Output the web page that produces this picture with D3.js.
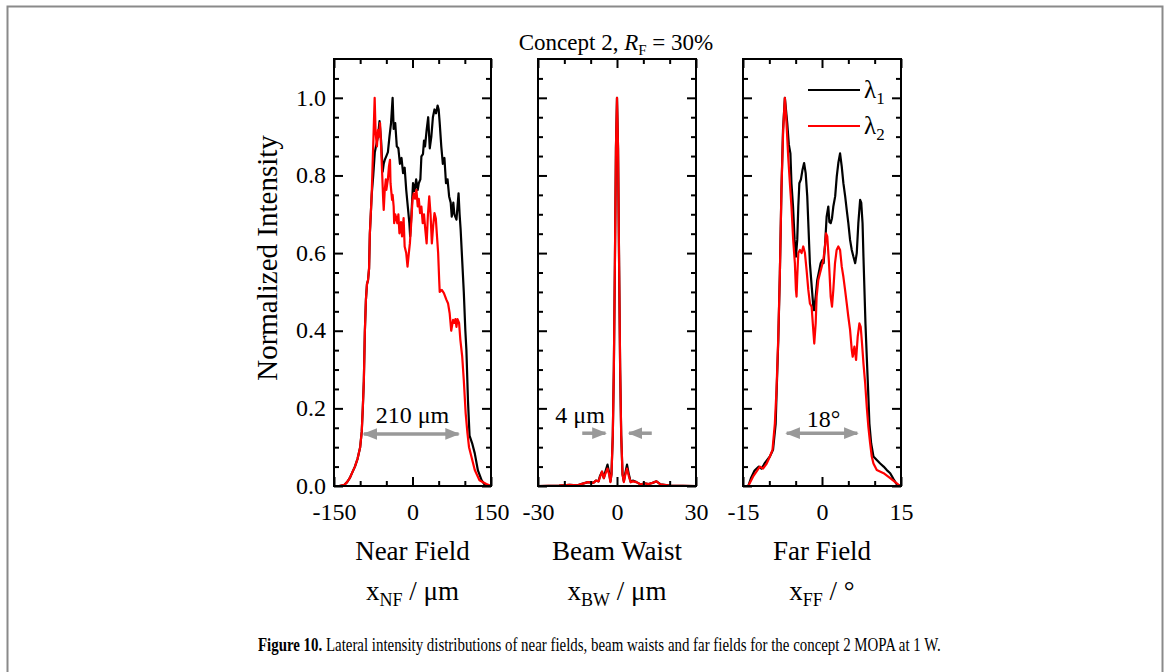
<!DOCTYPE html>
<html><head><meta charset="utf-8">
<script src="https://cdn.jsdelivr.net/npm/d3@7"></script>
<style>body{margin:0;background:#fff}svg{display:block}text{font-family:"Liberation Serif","Times New Roman",serif}</style>
</head><body>
<svg id="c" width="1170" height="672"></svg>
<script>
// ---------- data ----------
const nfBlack = [[-150,0],[-140,0],[-130,0.003],[-125,0.01],[-120,0.02],[-115,0.035],[-110,0.05],[-105,0.07],[-100,0.1],[-97,0.14],[-95,0.2],[-93,0.27],[-91,0.4],[-89,0.48],[-87,0.52],[-85,0.53],[-83,0.56],[-81.5,0.65],[-79,0.72],[-78,0.75],[-75,0.8],[-72,0.86],[-69,0.88],[-66,0.9],[-63,0.94],[-60,0.89],[-57,0.81],[-55,0.83],[-53,0.84],[-50,0.85],[-47,0.86],[-44,0.9],[-41,0.935],[-38,1.0],[-36,0.92],[-33,0.935],[-30,0.875],[-27,0.87],[-24,0.83],[-21,0.845],[-18,0.806],[-15,0.82],[-12,0.763],[-9,0.72],[-6,0.677],[-4.5,0.643],[-2,0.7],[1,0.78],[4,0.76],[7,0.79],[10,0.763],[12,0.78],[15,0.79],[17,0.849],[20,0.855],[22,0.89],[24,0.875],[27,0.917],[30,0.95],[33,0.87],[36,0.9],[39,0.95],[42,0.97],[45,0.96],[48,0.98],[50,0.97],[52,0.935],[55,0.875],[58,0.83],[61,0.845],[64,0.78],[67,0.79],[70,0.746],[73,0.73],[75,0.694],[78,0.73],[80,0.7],[84,0.686],[88,0.754],[90,0.7],[92,0.66],[95,0.58],[98,0.5],[101,0.4],[103,0.35],[106,0.22],[109,0.13],[114,0.11],[119,0.084],[125,0.04],[132,0.015],[138,0.003],[150,0]];
const nfRed = [[-150,0],[-140,0],[-130,0.003],[-125,0.01],[-120,0.02],[-115,0.035],[-110,0.05],[-105,0.07],[-100,0.1],[-97,0.14],[-95,0.2],[-93,0.27],[-91,0.4],[-89,0.48],[-87,0.52],[-85,0.53],[-83,0.56],[-81.5,0.65],[-78,0.75],[-75,0.88],[-72.3,1.0],[-70.5,0.91],[-68,0.875],[-66,0.917],[-64,0.9],[-62,0.935],[-60,0.875],[-58,0.806],[-56,0.737],[-55,0.711],[-53,0.763],[-51,0.79],[-50,0.763],[-47,0.79],[-45,0.823],[-43,0.84],[-42,0.78],[-39,0.737],[-38,0.75],[-36,0.72],[-35,0.677],[-33,0.7],[-31,0.69],[-29,0.677],[-27,0.7],[-25,0.651],[-22,0.68],[-20,0.643],[-17,0.69],[-15,0.617],[-12,0.6],[-9.5,0.565],[-7,0.6],[-5,0.625],[-2.5,0.677],[0,0.737],[2.5,0.754],[5,0.74],[7.5,0.763],[10,0.72],[12,0.74],[14.5,0.703],[17,0.72],[19.5,0.677],[22,0.7],[24.5,0.66],[27,0.625],[29.5,0.7],[32,0.746],[34.5,0.7],[37,0.625],[39.5,0.67],[42,0.703],[44.5,0.69],[47,0.64],[49,0.6],[51,0.53],[52,0.5],[56,0.505],[60,0.497],[64.7,0.48],[68,0.47],[71,0.445],[74,0.4],[77.5,0.428],[80,0.42],[82,0.43],[84,0.41],[86,0.43],[89,0.42],[91.5,0.376],[95,0.333],[98,0.273],[101.6,0.187],[105,0.136],[108,0.1],[112.5,0.076],[119,0.041],[128,0.015],[141,0.005],[150,0]];
const bwBlack = [[-30,0],[-22,0.001],[-18,0.003],[-15,0.002],[-13,0.006],[-11,0.01],[-9,0.008],[-8,0.014],[-7,0.012],[-6.5,0.025],[-5.7,0.037],[-5,0.02],[-4.5,0.035],[-3.6,0.055],[-3,0.035],[-2.5,0.012],[-2.1,0.03],[-1.6,0.13],[-1.2,0.3],[-0.8,0.57],[-0.4,0.87],[0,1.0],[0.4,0.87],[0.8,0.57],[1.2,0.3],[1.6,0.13],[2.1,0.03],[2.6,0.012],[3.2,0.035],[3.8,0.055],[4.5,0.03],[5.2,0.01],[6,0.014],[7.4,0.01],[9,0.004],[10.5,0.007],[12,0.005],[13.5,0.008],[15,0.012],[16.5,0.004],[20,0.001],[30,0]];
const bwRed = [[-30,0],[-22,0.001],[-18,0.003],[-15,0.002],[-13,0.006],[-11,0.01],[-9,0.008],[-8,0.014],[-7,0.012],[-6.5,0.022],[-5.7,0.037],[-5,0.02],[-4.5,0.03],[-3.6,0.045],[-3,0.03],[-2.5,0.01],[-2.1,0.03],[-1.6,0.13],[-1.2,0.3],[-0.8,0.57],[-0.4,0.87],[0,1.0],[0.4,0.87],[0.8,0.57],[1.2,0.3],[1.6,0.13],[2.1,0.03],[2.6,0.01],[3.2,0.03],[3.8,0.045],[4.5,0.025],[5.2,0.01],[6,0.012],[7.4,0.01],[9,0.004],[10.5,0.007],[12,0.005],[13.5,0.008],[15,0.012],[16.5,0.004],[20,0.001],[30,0]];
const ffBlack = [[-15,0],[-14,0],[-13.5,0.02],[-12.8,0.04],[-12,0.05],[-11.5,0.045],[-10.8,0.06],[-9.9,0.076],[-9.3,0.093],[-8.8,0.16],[-8.6,0.25],[-8.3,0.376],[-8.0,0.548],[-7.7,0.763],[-7.4,0.918],[-7.05,1.0],[-6.6,0.935],[-6.3,0.88],[-6.0,0.857],[-5.8,0.78],[-5.5,0.72],[-5.2,0.634],[-4.95,0.591],[-4.7,0.634],[-4.5,0.72],[-4.3,0.78],[-4.0,0.79],[-3.7,0.815],[-3.4,0.832],[-3.1,0.806],[-2.8,0.746],[-2.55,0.66],[-2.3,0.574],[-2.0,0.522],[-1.65,0.462],[-1.5,0.453],[-1.2,0.488],[-0.9,0.531],[-0.5,0.557],[-0.25,0.574],[0.05,0.582],[0.3,0.574],[0.6,0.625],[0.88,0.694],[1.2,0.72],[1.4,0.68],[1.65,0.677],[1.9,0.69],[2.15,0.72],[2.5,0.746],[2.8,0.797],[3.1,0.832],[3.43,0.857],[3.75,0.823],[4.06,0.78],[4.4,0.746],[4.7,0.711],[5.0,0.677],[5.33,0.634],[5.65,0.608],[5.96,0.591],[6.3,0.574],[6.6,0.6],[6.9,0.677],[7.24,0.737],[7.45,0.73],[7.7,0.677],[7.87,0.591],[8.06,0.505],[8.25,0.419],[8.5,0.333],[8.76,0.247],[9.0,0.161],[9.33,0.11],[9.77,0.076],[10.4,0.067],[11.05,0.058],[11.7,0.05],[12.3,0.041],[12.95,0.033],[13.6,0.017],[14.2,0.004],[15,0]];
const ffRed = [[-15,0],[-14,0],[-13.1,0.024],[-11.8,0.05],[-11.2,0.045],[-10.5,0.058],[-9.9,0.076],[-9.4,0.093],[-8.95,0.161],[-8.64,0.247],[-8.32,0.376],[-8.0,0.548],[-7.7,0.763],[-7.37,0.918],[-7.05,1.0],[-6.74,0.935],[-6.42,0.849],[-6.1,0.78],[-5.8,0.72],[-5.47,0.634],[-5.15,0.574],[-4.95,0.505],[-4.83,0.488],[-4.7,0.54],[-4.5,0.6],[-4.19,0.608],[-3.87,0.6],[-3.56,0.617],[-3.24,0.6],[-2.93,0.557],[-2.6,0.505],[-2.29,0.47],[-1.97,0.462],[-1.66,0.402],[-1.47,0.367],[-1.2,0.419],[-1.02,0.488],[-0.7,0.531],[-0.38,0.548],[-0.06,0.565],[0.25,0.582],[0.57,0.617],[0.76,0.651],[1.0,0.643],[1.33,0.574],[1.65,0.488],[1.9,0.462],[2.15,0.505],[2.47,0.574],[2.78,0.608],[3.1,0.617],[3.43,0.608],[3.75,0.565],[4.06,0.539],[4.38,0.505],[4.69,0.471],[5.0,0.436],[5.33,0.402],[5.65,0.35],[5.83,0.333],[6.15,0.359],[6.47,0.325],[6.78,0.385],[7.1,0.419],[7.35,0.41],[7.6,0.367],[7.87,0.316],[8.2,0.264],[8.5,0.204],[8.8,0.153],[9.14,0.11],[9.45,0.076],[9.77,0.058],[10.4,0.041],[11.7,0.033],[12.95,0.02],[14.2,0.007],[14.8,0],[15,0]];

const nfTicks = [-150, 0, 150];
const nfMinor = [-100, -50, 50, 100];
const bwTicks = [-30, 0, 30];
const bwMinor = [-20, -10, 10, 20];
const ffTicks = [-15, 0, 15];
const ffMinor = [-10, -5, 5, 10];
const yTicks = [0, 0.2, 0.4, 0.6, 0.8, 1.0];
const yMinor = [0.05,0.1,0.15,0.25,0.3,0.35,0.45,0.5,0.55,0.65,0.7,0.75,0.85,0.9,0.95,1.05];
const seriesNames = ["λ", "λ"];
const seriesSubs = ["1", "2"];
const seriesColors = ["#000000", "#ff0000"];

// ---------- layout ----------
const svg = d3.select("#c");
const yTop = 59, yBot = 486;
const y = d3.scaleLinear().domain([0, 1.1]).range([yBot, yTop]);
const panels = [
  {x0:334, x1:491, dom:[-150,150], ticks:nfTicks, minor:nfMinor, data:[nfBlack,nfRed], name:"Near Field", sub:"NF", unit:" / μm"},
  {x0:538, x1:696, dom:[-30,30], ticks:bwTicks, minor:bwMinor, data:[bwBlack,bwRed], name:"Beam Waist", sub:"BW", unit:" / μm"},
  {x0:743, x1:901, dom:[-15,15], ticks:ffTicks, minor:ffMinor, data:[ffBlack,ffRed], name:"Far Field", sub:"FF", unit:" / °"}
];

svg.append("rect").attr("x",7.5).attr("y",6.5).attr("width",1155).attr("height",700)
  .attr("fill","none").attr("stroke","#8a8a8a").attr("stroke-width",2);

const defs = svg.append("defs");
defs.append("marker").attr("id","ah").attr("viewBox","0 0 10 10").attr("refX",9).attr("refY",5)
  .attr("markerWidth",4.2).attr("markerHeight",4.2).attr("orient","auto-start-reverse").attr("markerUnits","strokeWidth")
  .append("path").attr("d","M0,1 L10,5 L0,9 Z").attr("fill","#999");

const fmt = d3.format(".1f");
panels.forEach((p, i) => {
  const x = d3.scaleLinear().domain(p.dom).range([p.x0, p.x1]);
  p.x = x;
  const g = svg.append("g");
  const clipId = "clip" + i;
  defs.append("clipPath").attr("id", clipId).append("rect")
    .attr("x", p.x0).attr("y", yTop).attr("width", p.x1 - p.x0).attr("height", yBot - yTop);
  const line = d3.line().x(d => x(d[0])).y(d => y(d[1]));
  p.data.forEach((d, k) => {
    g.append("path").datum(d).attr("d", line).attr("fill","none")
      .attr("stroke", seriesColors[k]).attr("stroke-width", 2.2).attr("stroke-linejoin","round")
      .attr("clip-path", `url(#${clipId})`);
  });
  const mk = (axis, tr, major, minor, labels) => {
    const a1 = g.append("g").attr("transform", tr).call(axis(major).tickSize(-9).tickPadding(8).tickFormat(labels ? null : ""));
    const a2 = g.append("g").attr("transform", tr).call(axis(minor).tickSize(-5).tickFormat(""));
    [a1, a2].forEach(a => { a.select(".domain").remove(); a.selectAll("line").attr("stroke","#000").attr("stroke-width",2); });
    return a1;
  };
  const xb = mk(v => d3.axisBottom(x).tickValues(v), `translate(0,${yBot})`, p.ticks, p.minor, true);
  xb.selectAll("text").attr("font-size", 24).attr("fill","#000").attr("font-family","Liberation Serif")
    .text(d => d < 0 ? "-" + Math.abs(d) : d).attr("y", 34).attr("dy", null);
  mk(v => d3.axisTop(x).tickValues(v), `translate(0,${yTop})`, p.ticks, p.minor, false);
  const yl = mk(v => d3.axisLeft(y).tickValues(v), `translate(${p.x0},0)`, yTicks, yMinor, i === 0);
  if (i === 0) yl.selectAll("text").attr("font-size", 24).attr("fill","#000").attr("font-family","Liberation Serif").attr("dy","0.3em").text(d => fmt(d));
  mk(v => d3.axisRight(y).tickValues(v), `translate(${p.x1},0)`, yTicks, yMinor, false);
  g.append("rect").attr("x", p.x0).attr("y", yTop).attr("width", p.x1 - p.x0).attr("height", yBot - yTop)
    .attr("fill","none").attr("stroke","#000").attr("stroke-width",2);
  const cx = (p.x0 + p.x1) / 2;
  svg.append("text").attr("x", cx).attr("y", 560).attr("text-anchor","middle").attr("font-size",27).text(p.name);
  const t = svg.append("text").attr("x", cx).attr("y", 600).attr("text-anchor","middle").attr("font-size",27);
  t.append("tspan").text("x");
  t.append("tspan").attr("font-size",18).attr("dy",6).text(p.sub);
  t.append("tspan").attr("dy",-6).text(p.unit);
});

svg.append("text").attr("transform","translate(277,258) rotate(-90)").attr("text-anchor","middle")
  .attr("font-size",29).text("Normalized Intensity");

const tt = svg.append("text").attr("x",616).attr("y",50).attr("text-anchor","middle").attr("font-size",23);
tt.append("tspan").text("Concept 2, ");
tt.append("tspan").attr("font-style","italic").text("R");
tt.append("tspan").attr("font-size",15).attr("dy",5).text("F");
tt.append("tspan").attr("dy",-5).text(" = 30%");

[0,1].forEach(k => {
  const ly = 90 + k * 36;
  svg.append("line").attr("x1",808).attr("x2",860).attr("y1",ly).attr("y2",ly)
    .attr("stroke",seriesColors[k]).attr("stroke-width",2.2);
  const lt = svg.append("text").attr("x",864).attr("y",ly+8).attr("font-size",25);
  lt.append("tspan").text(seriesNames[k]);
  lt.append("tspan").attr("font-size",17).attr("dy",6).text(seriesSubs[k]);
});

const ann = (p, x1, x2, yv, both) => {
  svg.append("line").attr("x1",p.x(x1)).attr("x2",p.x(x2)).attr("y1",y(yv)).attr("y2",y(yv))
    .attr("stroke","#999").attr("stroke-width",3.5)
    .attr("marker-end","url(#ah)").attr("marker-start", both ? "url(#ah)" : null);
};
const N = panels[0], B = panels[1], F = panels[2];
ann(N, -93, 88, 0.134, true);
svg.append("text").attr("x",N.x(0)).attr("y",y(0.162)).attr("text-anchor","middle").attr("font-size",24).text("210 μm");
ann(B, -13.2, -4.4, 0.136, false);
ann(B, 13.2, 4.6, 0.136, false);
svg.append("text").attr("x",B.x(-14)).attr("y",y(0.162)).attr("text-anchor","middle").attr("font-size",24).text("4 μm");
ann(F, -6.7, 6.7, 0.136, true);
svg.append("text").attr("x",F.x(0.3)).attr("y",y(0.152)).attr("text-anchor","middle").attr("font-size",24).text("18°");

// caption (single text, horizontally condensed to the reference width)
const cap = svg.append("text").attr("x",0).attr("y",0).attr("font-size",19);
cap.append("tspan").attr("font-weight","bold").text("Figure 10.");
cap.append("tspan").text(" Lateral intensity distributions of near fields, beam waists and far fields for the concept 2 MOPA at 1 W.");
const natural = cap.node().getComputedTextLength();
cap.attr("transform", `translate(258,651) scale(${683 / natural},1)`);
</script>
</body></html>
